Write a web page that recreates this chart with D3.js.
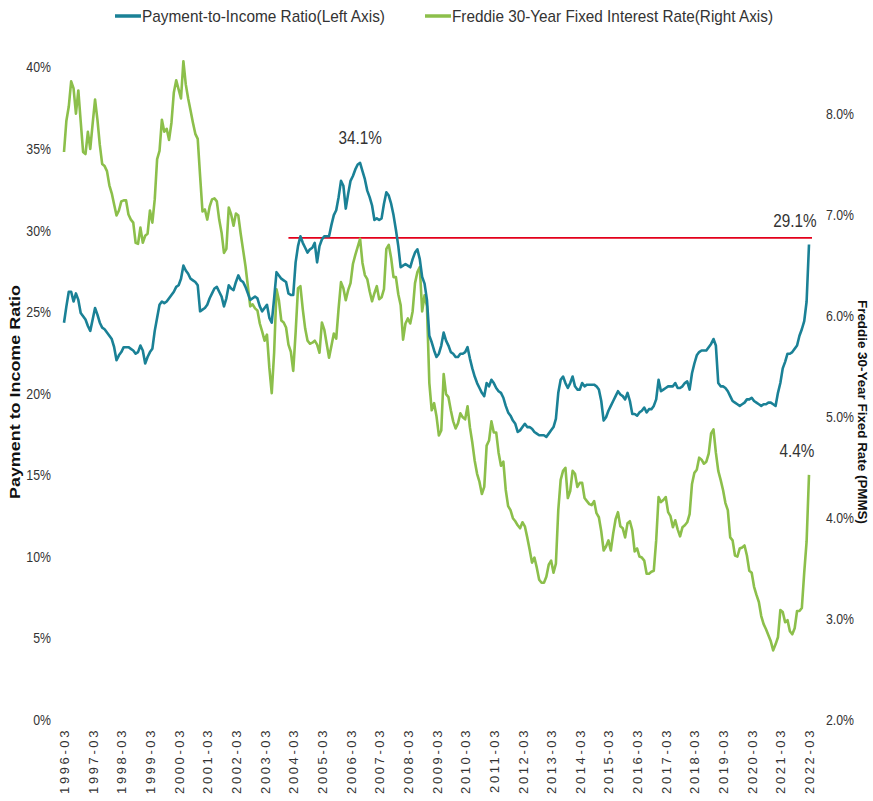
<!DOCTYPE html>
<html>
<head>
<meta charset="utf-8">
<script src="https://cdn.jsdelivr.net/npm/d3@7"></script>
<style>
  html, body { margin: 0; padding: 0; background: #fff; }
  svg { display: block; }
  .narrow { font-family: "Liberation Sans", Arial, sans-serif; }
</style>
</head>
<body>
<svg id="chart" width="873" height="801"></svg>
<script>
// ---------------- DATA ----------------
const startMonth = "1996-03";
const endMonth = "2022-03";

// Payment-to-Income Ratio (%), monthly, Mar 1996 - Mar 2022
const paymentToIncome = [
  24.3, 25.3, 26.2, 26.2, 25.6, 26.1, 25.7, 24.9, 24.7, 24.5,                 // 1996 (Mar-Dec)
  24.1, 23.8, 24.5, 25.2, 24.8, 24.3, 24.0, 23.9, 23.7, 23.5, 23.3, 22.8,     // 1997
  22.0, 22.3, 22.5, 22.8, 22.8, 22.8, 22.7, 22.6, 22.4, 22.5, 22.9, 22.6,     // 1998
  21.8, 22.2, 22.5, 22.7, 23.8, 24.6, 25.4, 25.6, 25.5, 25.6, 25.8, 26.0,     // 1999
  26.2, 26.5, 26.6, 27.0, 27.8, 27.5, 27.3, 27.0, 26.9, 26.8, 26.6, 25.0,     // 2000
  25.1, 25.2, 25.4, 25.8, 26.1, 26.4, 26.5, 26.2, 25.9, 25.3, 25.8, 26.6,     // 2001
  26.4, 26.3, 26.8, 27.2, 26.9, 26.8, 26.5, 26.1, 25.7, 25.8, 25.9, 25.8,     // 2002
  25.3, 25.0, 25.2, 25.4, 24.6, 24.3, 25.8, 27.4, 27.2, 27.0, 26.9, 26.8,     // 2003
  26.1, 26.0, 26.0, 28.0, 29.0, 29.6, 29.2, 28.9, 28.6, 28.8, 28.9, 29.2,     // 2004
  28.0, 29.0, 29.4, 29.6, 29.6, 29.6, 30.3, 30.9, 31.2, 32.0, 33.0, 32.7,     // 2005
  31.3, 32.2, 33.0, 33.3, 33.7, 34.0, 34.1, 33.6, 33.1, 32.4, 32.0, 31.5,     // 2006
  30.6, 30.7, 30.6, 30.7, 31.6, 32.3, 32.1, 31.6, 30.9, 30.0, 29.0, 27.7,     // 2007
  27.8, 27.9, 27.8, 27.7, 28.2, 28.6, 28.8, 28.2, 27.1, 26.7, 25.7, 23.5,     // 2008
  23.1, 22.6, 22.2, 22.4, 22.9, 23.7, 23.2, 22.9, 22.5, 22.4, 22.2, 22.2,     // 2009
  22.4, 22.4, 22.5, 22.8, 22.1, 21.5, 21.0, 20.6, 20.3, 20.0, 19.8, 20.6,     // 2010
  20.4, 20.8, 20.6, 20.3, 20.1, 20.0, 19.7, 19.2, 18.8, 18.6, 18.3, 18.1,     // 2011
  17.6, 17.7, 17.9, 18.1, 17.9, 17.9, 17.8, 17.6, 17.5, 17.4, 17.4, 17.4,     // 2012
  17.3, 17.5, 17.7, 17.9, 18.4, 20.0, 20.8, 21.0, 20.6, 20.3, 20.6, 21.0,     // 2013
  20.4, 20.2, 20.2, 20.6, 20.4, 20.5, 20.5, 20.5, 20.5, 20.4, 20.2, 19.5,     // 2014
  18.3, 18.5, 18.9, 19.2, 19.5, 19.8, 20.1, 19.9, 19.8, 19.6, 20.0, 19.5,     // 2015
  18.7, 18.7, 18.6, 18.8, 18.9, 19.1, 18.8, 19.0, 19.0, 19.2, 19.6, 20.8,     // 2016
  20.1, 20.2, 20.3, 20.4, 20.4, 20.4, 20.6, 20.3, 20.3, 20.4, 20.6, 20.7,     // 2017
  20.2, 21.2, 21.8, 22.3, 22.5, 22.6, 22.6, 22.6, 22.8, 23.0, 23.3, 22.9,     // 2018
  20.6, 20.4, 20.4, 20.3, 20.1, 19.8, 19.5, 19.4, 19.3, 19.2, 19.3, 19.4,     // 2019
  19.6, 19.6, 19.7, 19.5, 19.4, 19.3, 19.2, 19.3, 19.3, 19.4, 19.4, 19.3,     // 2020
  19.2, 20.0, 20.6, 21.5, 21.9, 22.4, 22.4, 22.5, 22.7, 22.9, 23.5, 23.9,     // 2021
  24.4, 25.6, 29.1                                                             // 2022 (Jan-Mar)
];

// Freddie Mac 30-Year Fixed rate (%), monthly, Mar 1996 - Mar 2022
const freddieRate = [
  7.62, 7.93, 8.07, 8.32, 8.25, 8.00, 8.23, 7.92, 7.62, 7.60,                 // 1996 (Mar-Dec)
  7.82, 7.65, 7.90, 8.14, 7.94, 7.69, 7.50, 7.48, 7.43, 7.29, 7.21, 7.10,     // 1997
  6.99, 7.04, 7.13, 7.14, 7.14, 7.00, 6.95, 6.92, 6.72, 6.71, 6.87, 6.72,     // 1998
  6.79, 6.81, 7.04, 6.92, 7.15, 7.55, 7.63, 7.94, 7.82, 7.85, 7.74, 7.91,     // 1999
  8.21, 8.33, 8.24, 8.15, 8.52, 8.29, 8.15, 8.03, 7.91, 7.80, 7.75, 7.38,     // 2000
  7.03, 7.05, 6.95, 7.08, 7.15, 7.16, 7.13, 6.95, 6.82, 6.62, 6.66, 7.07,     // 2001
  7.00, 6.89, 7.01, 6.99, 6.81, 6.65, 6.49, 6.29, 6.09, 6.11, 6.07, 6.05,     // 2002
  5.92, 5.84, 5.75, 5.81, 5.48, 5.23, 5.63, 6.26, 6.15, 5.95, 5.93, 5.88,     // 2003
  5.71, 5.64, 5.45, 5.83, 6.27, 6.29, 6.06, 5.87, 5.75, 5.72, 5.73, 5.75,     // 2004
  5.71, 5.63, 5.93, 5.86, 5.72, 5.58, 5.70, 5.82, 5.77, 6.07, 6.33, 6.27,     // 2005
  6.15, 6.25, 6.32, 6.51, 6.60, 6.68, 6.76, 6.52, 6.40, 6.36, 6.24, 6.14,     // 2006
  6.22, 6.29, 6.16, 6.18, 6.26, 6.66, 6.70, 6.57, 6.38, 6.38, 6.21, 6.10,     // 2007
  5.76, 5.92, 5.97, 5.92, 6.04, 6.32, 6.43, 6.48, 6.04, 6.20, 6.09, 5.33,     // 2008
  5.06, 5.13, 5.00, 4.81, 4.86, 5.42, 5.22, 5.19, 5.06, 4.95, 4.88, 4.93,     // 2009
  5.03, 4.99, 4.97, 5.10, 4.89, 4.74, 4.56, 4.43, 4.35, 4.23, 4.30, 4.71,     // 2010
  4.76, 4.95, 4.84, 4.84, 4.64, 4.51, 4.55, 4.27, 4.11, 4.07, 3.99, 3.96,     // 2011
  3.92, 3.89, 3.95, 3.91, 3.80, 3.68, 3.55, 3.60, 3.50, 3.38, 3.35, 3.35,     // 2012
  3.41, 3.53, 3.57, 3.45, 3.54, 4.07, 4.37, 4.46, 4.49, 4.19, 4.26, 4.46,     // 2013
  4.43, 4.30, 4.34, 4.34, 4.19, 4.16, 4.13, 4.12, 4.16, 4.04, 4.00, 3.86,     // 2014
  3.67, 3.71, 3.77, 3.67, 3.84, 3.98, 4.05, 3.91, 3.89, 3.80, 3.94, 3.96,     // 2015
  3.87, 3.66, 3.69, 3.61, 3.60, 3.57, 3.44, 3.44, 3.46, 3.47, 3.77, 4.20,     // 2016
  4.15, 4.17, 4.20, 4.05, 4.01, 3.90, 3.97, 3.88, 3.81, 3.90, 3.92, 3.95,     // 2017
  4.03, 4.33, 4.44, 4.47, 4.59, 4.57, 4.53, 4.55, 4.63, 4.83, 4.87, 4.64,     // 2018
  4.46, 4.37, 4.27, 4.14, 4.07, 3.80, 3.77, 3.62, 3.61, 3.69, 3.70, 3.72,     // 2019
  3.62, 3.47, 3.45, 3.31, 3.23, 3.16, 3.02, 2.94, 2.89, 2.83, 2.77, 2.68,     // 2020
  2.74, 2.81, 3.08, 3.06, 2.96, 2.98, 2.87, 2.84, 2.90, 3.07, 3.07, 3.10,     // 2021
  3.45, 3.76, 4.42                                                             // 2022 (Jan-Mar)
];

const xTickLabels = ["1996-03","1997-03","1998-03","1999-03","2000-03","2001-03","2002-03",
  "2003-03","2004-03","2005-03","2006-03","2007-03","2008-03","2009-03","2010-03","2011-03",
  "2012-03","2013-03","2014-03","2015-03","2016-03","2017-03","2018-03","2019-03","2020-03",
  "2021-03","2022-03"];
const leftTicks = [0, 5, 10, 15, 20, 25, 30, 35, 40];
const rightTicks = [2, 3, 4, 5, 6, 7, 8];

const seriesNames = ["Payment-to-Income Ratio(Left Axis)", "Freddie 30-Year Fixed Interest Rate(Right Axis)"];
const refLine = { from: "2004-01", to: "2022-03", value: 29.5 };
const annotations = [
  { month: "2006-07", value: 34.1, axis: "left", text: "34.1%" },
  { month: "2022-03", value: 29.1, axis: "left", text: "29.1%" },
  { month: "2022-03", value: 4.42, axis: "right", text: "4.4%" }
];

// ---------------- CHART ----------------
const fmtMonth = d3.timeFormat("%Y-%m");
const parseMonth = d3.timeParse("%Y-%m");
const months = d3.timeMonth.range(parseMonth(startMonth), d3.timeMonth.offset(parseMonth(endMonth), 1)).map(fmtMonth);

const blue = "#1a8196";
const green = "#8cbf4b";
const textCol = "#333333";

const svg = d3.select("#chart");

// compress text horizontally to mimic a narrow face
function narrow(sel, factor) {
  sel.each(function () {
    const w = this.getComputedTextLength();
    d3.select(this).attr("textLength", w * factor).attr("lengthAdjust", "spacingAndGlyphs");
  });
}

const x = d3.scalePoint().domain(months).range([64, 809]);
const yL = d3.scaleLinear().domain([0, 40]).range([719, 66.7]);
const yR = d3.scaleLinear().domain([2, 8.5]).range([719, 63.2]);

// left axis
const axL = svg.append("g").attr("transform", "translate(51,0)")
  .call(d3.axisLeft(yL).tickValues(leftTicks).tickSize(0).tickPadding(0).tickFormat(d => d + "%"));
axL.select(".domain").remove();
axL.selectAll("text").attr("class", "narrow").attr("font-size", 15).attr("fill", textCol).attr("dy", "0.35em")
  .call(narrow, 0.82);

// right axis
const axR = svg.append("g").attr("transform", "translate(826,0)")
  .call(d3.axisRight(yR).tickValues(rightTicks).tickSize(0).tickPadding(0).tickFormat(d => d3.format(".1f")(d) + "%"));
axR.select(".domain").remove();
axR.selectAll("text").attr("class", "narrow").attr("font-size", 15).attr("fill", textCol).attr("dy", "0.35em")
  .call(narrow, 0.82);

// x axis
const axX = svg.append("g").attr("transform", "translate(0,728)")
  .call(d3.axisBottom(x).tickValues(xTickLabels).tickSize(0).tickPadding(0));
axX.select(".domain").remove();
axX.selectAll("text")
  .attr("font-family", "'Liberation Sans', Arial, sans-serif")
  .attr("font-size", 13)
  .attr("letter-spacing", "2.6px")
  .attr("fill", textCol)
  .attr("text-anchor", "end")
  .attr("transform", "rotate(-90)")
  .attr("x", 0).attr("y", 0).attr("dy", "0.35em");

// axis titles
svg.append("text")
  .attr("transform", "translate(20,392) rotate(-90)")
  .attr("text-anchor", "middle")
  .attr("font-family", "'Liberation Sans', Arial, sans-serif")
  .attr("font-weight", "bold").attr("font-size", 14).attr("fill", "#111")
  .attr("textLength", 214).attr("lengthAdjust", "spacingAndGlyphs")
  .text("Payment to Income Ratio");
svg.append("text")
  .attr("transform", "translate(858,412) rotate(90)")
  .attr("text-anchor", "middle")
  .attr("font-family", "'Liberation Sans', Arial, sans-serif")
  .attr("font-weight", "bold").attr("font-size", 13).attr("fill", "#111")
  .attr("textLength", 224).attr("lengthAdjust", "spacingAndGlyphs")
  .text("Freddie 30-Year Fixed Rate (PMMS)");

// reference line
svg.append("line")
  .attr("x1", x(refLine.from)).attr("x2", x(refLine.to) + 3)
  .attr("y1", yL(refLine.value)).attr("y2", yL(refLine.value))
  .attr("stroke", "#e3001b").attr("stroke-width", 1.8);

// lines
const lineL = d3.line().x((d, i) => x(months[i])).y(d => yL(d));
const lineR = d3.line().x((d, i) => x(months[i])).y(d => yR(d));

svg.append("path").datum(freddieRate)
  .attr("d", lineR).attr("fill", "none").attr("stroke", green)
  .attr("stroke-width", 2.6).attr("stroke-linejoin", "round");
svg.append("path").datum(paymentToIncome)
  .attr("d", lineL).attr("fill", "none").attr("stroke", blue)
  .attr("stroke-width", 2.6).attr("stroke-linejoin", "round");

// annotations
const annPos = [
  { dx: 0, dy: -19 },
  { dx: -14, dy: -17 },
  { dx: -12, dy: -18 }
];
annotations.forEach((a, k) => {
  const yy = a.axis === "left" ? yL(a.value) : yR(a.value);
  svg.append("text").attr("class", "narrow")
    .attr("x", x(a.month) + annPos[k].dx).attr("y", yy + annPos[k].dy)
    .attr("text-anchor", "middle").attr("font-size", 18).attr("fill", textCol)
    .text(a.text).call(narrow, 0.85);
});

// legend
const legend = svg.append("g").attr("transform", "translate(0,16)");
const legItems = [
  { name: seriesNames[0], color: blue, x: 115, w: 243 },
  { name: seriesNames[1], color: green, x: 425, w: 321 }
];
legItems.forEach(it => {
  legend.append("line").attr("x1", it.x).attr("x2", it.x + 26).attr("y1", 0).attr("y2", 0)
    .attr("stroke", it.color).attr("stroke-width", 3.5);
  legend.append("text").attr("class", "narrow").attr("x", it.x + 27).attr("y", 0).attr("dy", "0.35em")
    .attr("font-size", 17).attr("fill", textCol)
    .attr("textLength", it.w).attr("lengthAdjust", "spacingAndGlyphs")
    .text(it.name);
});
</script>
</body>
</html>
